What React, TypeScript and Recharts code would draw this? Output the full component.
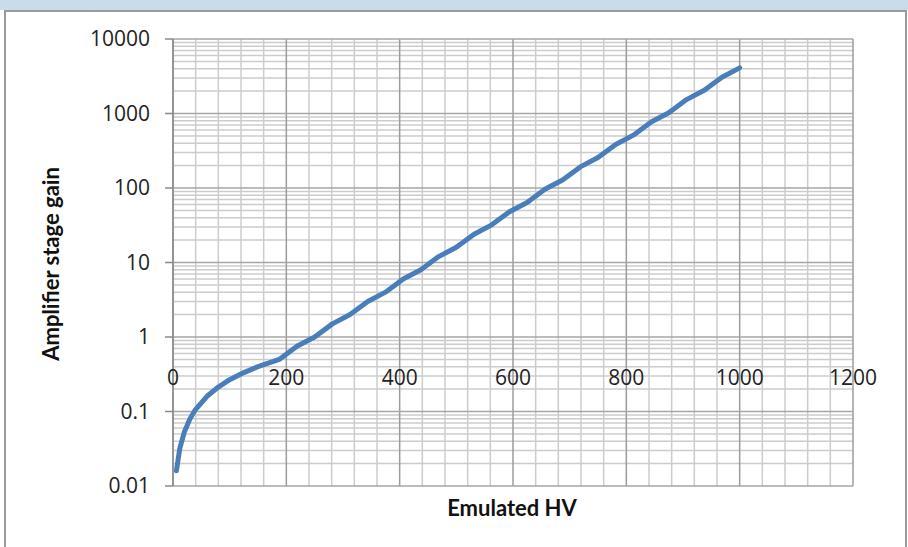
import React from "react";
import { LineChart, Line, XAxis, YAxis, ReferenceLine } from "recharts";

// Emulated HV (x) and amplifier stage gain (y)
const hvValues = [6, 12, 20, 30, 40, 60, 80, 100, 125, 150, 187.5, 218.75, 250, 281.25, 312.5, 343.75, 375, 406.25, 437.5, 468.75, 500, 531.25, 562.5, 593.75, 625, 656.25, 687.5, 718.75, 750, 781.25, 812.5, 843.75, 875, 906.25, 937.5, 968.75, 1000];
const gainValues = [0.016, 0.032, 0.053, 0.08, 0.107, 0.16, 0.213, 0.267, 0.333, 0.4, 0.5, 0.75, 1, 1.5, 2, 3, 4, 6, 8, 12, 16, 24, 32, 48, 64, 96, 128, 192, 256, 384, 512, 768, 1024, 1536, 2048, 3072, 4096];

const xTicks = [0, 200, 400, 600, 800, 1000, 1200];
const xMinorTicks = [40, 80, 120, 160, 240, 280, 320, 360, 440, 480, 520, 560, 640, 680, 720, 760, 840, 880, 920, 960, 1040, 1080, 1120, 1160];
const yTicks = [0.01, 0.1, 1, 10, 100, 1000, 10000];
const yTickLabels = ["0.01", "0.1", "1", "10", "100", "1000", "10000"];
const yDecades = [0.01, 0.1, 1, 10, 100, 1000];
const yMinorMultipliers = [2, 3, 4, 5, 6, 7, 8, 9];
const yMinorTicks = yDecades.flatMap((d) => yMinorMultipliers.map((m) => +(d * m).toPrecision(3)));

const data = hvValues.map((hv, i) => ({ hv, gain: gainValues[i] }));

const FONT = "'Open Sans', Lato, sans-serif";
const TICK_SIZE = 21;
const tickStyle = { fontSize: TICK_SIZE, fontFamily: FONT };

const XTick = (props: any) => {
  const { x, y, payload } = props;
  return (
    <text x={x} y={y - 108} dy="0.355em" textAnchor="middle" fill="#222" style={tickStyle}>
      {payload.value}
    </text>
  );
};

const YTick = (props: any) => {
  const { x, y, payload } = props;
  const idx = yTicks.indexOf(payload.value);
  return (
    <text x={x} y={y} dy="0.355em" textAnchor="end" fill="#222" style={tickStyle}>
      {idx >= 0 ? yTickLabels[idx] : payload.value}
    </text>
  );
};

export default function App() {
  return (
    <div style={{ position: "absolute", left: 0, top: 0, width: 908, height: 547, background: "#fff", overflow: "hidden" }}>
      <div style={{ position: "absolute", left: 0, top: 0, width: 908, height: 10, background: "#C8DCEB" }} />
      <div style={{ position: "absolute", left: 4, top: 10, width: 899, height: 560, borderLeft: "2px solid #9a9a9a", borderRight: "2px solid #9a9a9a", borderTop: "2px solid #9a9a9a" }} />
      <div style={{ position: "absolute", left: 0, top: 0 }}>
        <LineChart width={908} height={547} data={data} margin={{ top: 39, right: 55, bottom: 31, left: 113 }}>
          <XAxis
            dataKey="hv"
            type="number"
            domain={[0, 1200]}
            ticks={xTicks}
            axisLine={false}
            tickLine={false}
            tickSize={0}
            tickMargin={0}
            height={30}
            tick={<XTick />}
            allowDataOverflow
          />
          <YAxis
            dataKey="gain"
            type="number"
            scale="log"
            domain={[0.01, 10000]}
            ticks={yTicks}
            allowDataOverflow
            width={60}
            axisLine={{ stroke: "#8a8a8a", strokeWidth: 1.5 }}
            tickLine={{ stroke: "#8a8a8a", strokeWidth: 1.5 }}
            tickSize={8}
            tickMargin={15}
            tick={<YTick />}
          />
          {xMinorTicks.map((v) => (
            <ReferenceLine key={"xm" + v} x={v} stroke="#cccccc" strokeWidth={1.5} />
          ))}
          {yMinorTicks.map((v) => (
            <ReferenceLine key={"ym" + v} y={v} stroke="#cccccc" strokeWidth={1.5} />
          ))}
          {xTicks.map((v) => (
            <ReferenceLine key={"xM" + v} x={v} stroke="#9c9c9c" strokeWidth={1.5} />
          ))}
          {yTicks.map((v) => (
            <ReferenceLine key={"yM" + v} y={v} stroke="#a6a6a6" strokeWidth={1.5} />
          ))}
          <Line
            type="linear"
            dataKey="gain"
            stroke="#4A7EBB"
            strokeWidth={5}
            strokeLinecap="round"
            strokeLinejoin="round"
            dot={false}
            isAnimationActive={false}
          />
        </LineChart>
      </div>
      <div style={{ position: "absolute", left: 50, top: 264, transform: "translate(-50%, -50%) rotate(-90deg)", whiteSpace: "nowrap", fontFamily: "Lato, sans-serif", fontWeight: 700, fontSize: 22, color: "#111" }}>
        Amplifier stage gain
      </div>
      <div style={{ position: "absolute", left: 512, top: 507, transform: "translate(-50%, -50%)", whiteSpace: "nowrap", fontFamily: "Lato, sans-serif", fontWeight: 700, fontSize: 22, color: "#111" }}>
        Emulated HV
      </div>
    </div>
  );
}
